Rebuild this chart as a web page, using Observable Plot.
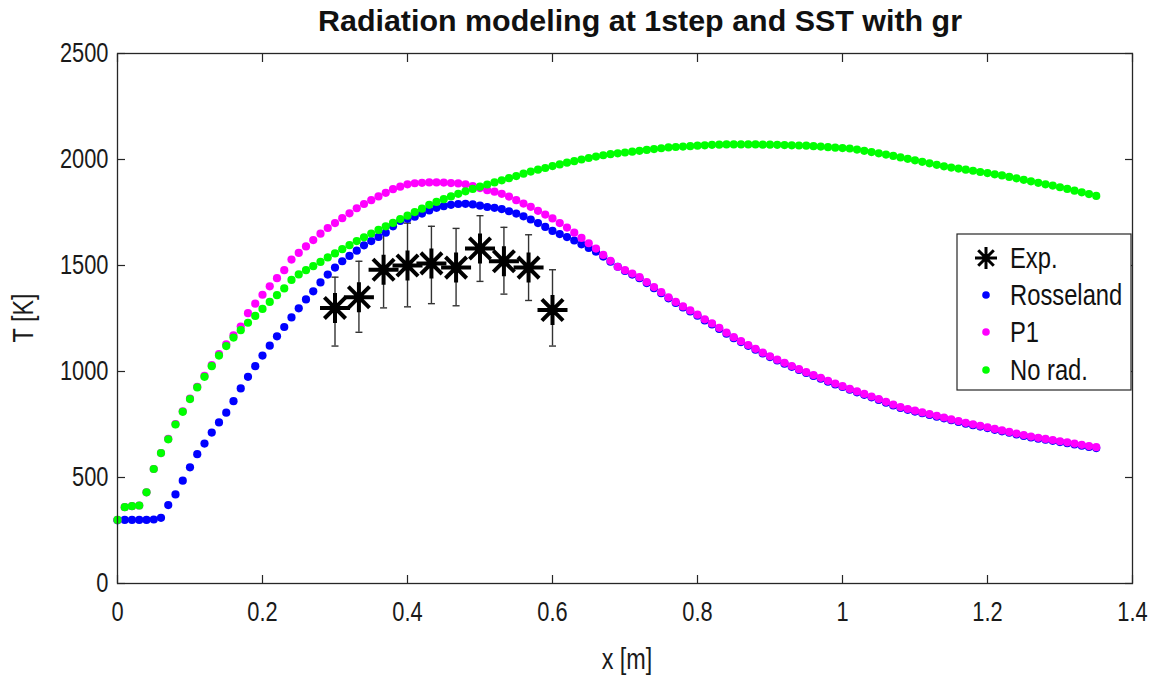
<!DOCTYPE html>
<html><head><meta charset="utf-8">
<script src="https://cdn.jsdelivr.net/npm/d3@7"></script>
<script src="https://cdn.jsdelivr.net/npm/@observablehq/plot@0.6"></script>
<style>
html,body{margin:0;padding:0;background:#fff;}
#chart{position:relative;width:1158px;height:676px;}
</style></head><body><div id="chart"></div>
<script>
// ---------- data ----------
const titleText = "Radiation modeling at 1step and SST with gr";
const xLabel = "x [m]";
const yLabel = "T [K]";
const legendLabels = ["Exp.", "Rosseland", "P1", "No rad."];

const xTicks = [0, 0.2, 0.4, 0.6, 0.8, 1.0, 1.2, 1.4];
const xTickLabels = ["0", "0.2", "0.4", "0.6", "0.8", "1", "1.2", "1.4"];
const yTicks = [0, 500, 1000, 1500, 2000, 2500];
const yTickLabels = ["0", "500", "1000", "1500", "2000", "2500"];

const xs = [0.00,0.01,0.02,0.03,0.04,0.05,0.06,0.07,0.08,0.09,
0.10,0.11,0.12,0.13,0.14,0.15,0.16,0.17,0.18,0.19,
0.20,0.21,0.22,0.23,0.24,0.25,0.26,0.27,0.28,0.29,
0.30,0.31,0.32,0.33,0.34,0.35,0.36,0.37,0.38,0.39,
0.40,0.41,0.42,0.43,0.44,0.45,0.46,0.47,0.48,0.49,
0.50,0.51,0.52,0.53,0.54,0.55,0.56,0.57,0.58,0.59,
0.60,0.61,0.62,0.63,0.64,0.65,0.66,0.67,0.68,0.69,
0.70,0.71,0.72,0.73,0.74,0.75,0.76,0.77,0.78,0.79,
0.80,0.81,0.82,0.83,0.84,0.85,0.86,0.87,0.88,0.89,
0.90,0.91,0.92,0.93,0.94,0.95,0.96,0.97,0.98,0.99,
1.00,1.01,1.02,1.03,1.04,1.05,1.06,1.07,1.08,1.09,
1.10,1.11,1.12,1.13,1.14,1.15,1.16,1.17,1.18,1.19,
1.20,1.21,1.22,1.23,1.24,1.25,1.26,1.27,1.28,1.29,
1.30,1.31,1.32,1.33,1.34,1.35];

const rosseland = [298,300,300,300,300,302,310,370,420,485,
548,610,660,712,760,806,860,920,975,1025,
1075,1122,1166,1210,1255,1298,1340,1378,1420,1457,
1490,1520,1545,1570,1595,1615,1635,1655,1685,1710,
1720,1730,1745,1760,1772,1780,1786,1790,1791,1788,
1782,1776,1772,1766,1756,1745,1732,1717,1700,1682,
1663,1648,1634,1618,1600,1583,1565,1542,1518,1494,
1474,1457,1440,1417,1393,1369,1345,1323,1302,1283,
1263,1241,1222,1201,1178,1157,1139,1121,1103,1085,
1068,1052,1037,1022,1007,993,979,966,952,939,
927,914,902,890,878,866,853,840,828,819,
811,803,795,787,779,770,762,754,747,740,
733,725,718,711,703,696,689,683,678,673,
667,662,656,650,644,639];

const p1 = [300,360,365,368,430,540,615,682,752,812,
872,928,979,1030,1082,1128,1170,1212,1275,1320,
1362,1402,1440,1478,1528,1560,1590,1620,1650,1677,
1700,1723,1746,1770,1790,1808,1826,1843,1860,1872,
1883,1888,1890,1892,1892,1891,1889,1887,1883,1875,
1865,1855,1848,1838,1825,1808,1792,1777,1758,1740,
1722,1700,1679,1655,1630,1605,1580,1550,1522,1494,
1478,1462,1445,1422,1398,1374,1350,1328,1307,1288,
1268,1246,1227,1206,1183,1162,1143,1125,1107,1089,
1072,1056,1041,1026,1011,997,983,970,956,943,
931,918,906,894,882,870,857,844,832,823,
815,807,799,791,783,774,766,758,751,744,
737,729,722,715,707,700,693,687,682,677,
671,666,660,654,648,643];

const noRad = [300,360,365,368,430,540,615,680,750,810,
870,925,975,1025,1075,1120,1160,1195,1230,1262,
1295,1328,1360,1392,1432,1458,1478,1497,1517,1538,
1557,1577,1596,1615,1633,1651,1668,1685,1701,1719,
1735,1752,1768,1786,1800,1813,1826,1838,1850,1861,
1872,1882,1892,1902,1912,1922,1933,1943,1952,1960,
1969,1977,1985,1992,2000,2007,2014,2020,2025,2029,
2033,2037,2041,2045,2049,2053,2057,2059,2061,2063,
2065,2067,2069,2070,2071,2071,2071,2071,2071,2070,
2070,2069,2068,2067,2066,2065,2063,2061,2058,2056,
2054,2052,2047,2041,2035,2029,2023,2017,2010,2003,
1996,1989,1982,1975,1968,1962,1957,1952,1947,1941,
1936,1930,1925,1918,1911,1904,1897,1890,1883,1877,
1869,1861,1853,1845,1837,1828];

const expX  = [0.30, 0.333, 0.367, 0.40, 0.433, 0.467, 0.50, 0.533, 0.567, 0.60];
const expT  = [1300, 1350, 1480, 1500, 1510, 1490, 1580, 1520, 1490, 1290];
const expHi = [1445, 1520, 1655, 1700, 1685, 1675, 1735, 1680, 1645, 1480];
const expLo = [1120, 1185, 1300, 1305, 1320, 1310, 1425, 1365, 1335, 1120];

// ---------- styling ----------
const FONT = '"Liberation Sans",Arial,Helvetica,sans-serif';
const INK = "#262626";
const SX = 0.78; // horizontal condensing of all text, as in the reference
const colors = {rosseland: "#0000ff", p1: "#ff00ff", noRad: "#00ff00", exp: "#000000"};
const W = 1158, H = 676, mL = 117, mR = 26, mT = 53, mB = 93;

const star8 = {draw(ctx, size) {
  const r = Math.sqrt(size / Math.PI), d = r * Math.SQRT1_2;
  ctx.moveTo(0, -r); ctx.lineTo(0, r);
  ctx.moveTo(-r, 0); ctx.lineTo(r, 0);
  ctx.moveTo(-d, -d); ctx.lineTo(d, d);
  ctx.moveTo(-d, d); ctx.lineTo(d, -d);
}};
const cap = {draw(ctx, size) {
  const r = Math.sqrt(size / Math.PI);
  ctx.moveTo(-r, 0); ctx.lineTo(r, 0);
}};

const rows = ys => xs.map((x, i) => ({x, T: ys[i]}));
const exp = expX.map((x, i) => ({x, T: expT[i], lo: expLo[i], hi: expHi[i]}));
const fx = d => xTickLabels[xTicks.indexOf(d)];
const fy = d => yTickLabels[yTicks.indexOf(d)];

const svg = Plot.plot({
  width: W, height: H,
  marginLeft: mL, marginRight: mR, marginTop: mT, marginBottom: mB,
  style: {fontFamily: FONT, fontSize: "28px", color: INK, background: "#fff", overflow: "visible"},
  x: {domain: [0, 1.4]},
  y: {domain: [0, 2500]},
  marks: [
    Plot.axisX({anchor: "bottom", ticks: xTicks, tickFormat: fx, tickSize: -8, tickPadding: 26, label: null, stroke: INK, strokeWidth: 1.2, fill: "#1a1a1a"}),
    Plot.axisX({anchor: "top", ticks: xTicks, tickFormat: () => "", tickSize: -8, label: null, stroke: INK, strokeWidth: 1.2}),
    Plot.axisY({anchor: "left", ticks: yTicks, tickFormat: fy, tickSize: -8, tickPadding: 17, label: null, stroke: INK, strokeWidth: 1.2, fill: "#1a1a1a"}),
    Plot.axisY({anchor: "right", ticks: yTicks, tickFormat: () => "", tickSize: -8, label: null, stroke: INK, strokeWidth: 1.2}),
    Plot.ruleX(exp, {x: "x", y1: "lo", y2: "hi", stroke: "#333", strokeWidth: 1.4}),
    Plot.dot(exp, {x: "x", y: "lo", symbol: cap, r: 3.5, stroke: "#333", strokeWidth: 1.4}),
    Plot.dot(exp, {x: "x", y: "hi", symbol: cap, r: 3.5, stroke: "#333", strokeWidth: 1.4}),
    Plot.dot(exp, {x: "x", y: "T", symbol: star8, r: 15, stroke: colors.exp, strokeWidth: 4, fill: "none"}),
    Plot.dot(rows(rosseland), {x: "x", y: "T", r: 4.1, fill: colors.rosseland, stroke: null}),
    Plot.dot(rows(p1), {x: "x", y: "T", r: 4.1, fill: colors.p1, stroke: null}),
    Plot.dot(rows(noRad), {x: "x", y: "T", r: 4.1, fill: colors.noRad, stroke: null}),
    Plot.frame({stroke: INK, strokeWidth: 1.3})
  ]
});

const s = d3.select(svg);
// condense tick labels horizontally around their anchor
s.selectAll('g[aria-label$="tick label"] text').each(function() {
  const t = d3.select(this);
  t.attr("transform", (t.attr("transform") || "") + ` scale(${SX},1)`);
});
// title
s.append("text").attr("transform", `translate(640,31) scale(${SX},1)`).attr("text-anchor", "middle")
  .attr("font-family", FONT).attr("font-weight", "bold").attr("font-size", 29).attr("fill", "#111")
  .attr("textLength", 644 / SX).attr("lengthAdjust", "spacingAndGlyphs")
  .text(titleText);
// axis labels
s.append("text").attr("transform", `translate(627,669) scale(${SX},1)`).attr("text-anchor", "middle")
  .attr("font-family", FONT).attr("font-size", 30).attr("fill", "#1a1a1a").text(xLabel);
s.append("text").attr("transform", `translate(33,318) rotate(-90) scale(${SX},1)`).attr("text-anchor", "middle")
  .attr("font-family", FONT).attr("font-size", 30).attr("fill", "#1a1a1a").text(yLabel);

// legend
const lg = s.append("g").attr("transform", "translate(957,234)");
lg.append("rect").attr("width", 174).attr("height", 156).attr("fill", "#fff").attr("stroke", INK).attr("stroke-width", 1.2);
const legendColors = [colors.exp, colors.rosseland, colors.p1, colors.noRad];
const rowY = [24, 61, 98, 136];
legendLabels.forEach((name, i) => {
  const g = lg.append("g").attr("transform", `translate(0,${rowY[i]})`);
  if (i === 0) {
    const r = 11, d = r * Math.SQRT1_2;
    g.append("path").attr("d", `M29,${-r}V${r}M${29 - r},0H${29 + r}M${29 - d},${-d}L${29 + d},${d}M${29 - d},${d}L${29 + d},${-d}`)
      .attr("stroke", "#000").attr("stroke-width", 3).attr("fill", "none");
  } else {
    g.append("circle").attr("cx", 29).attr("cy", 0).attr("r", 3.8).attr("fill", legendColors[i]);
  }
  g.append("text").attr("transform", `translate(53,0) scale(0.82,1)`).attr("dy", "0.36em")
    .attr("text-anchor", "start")
    .attr("font-family", FONT).attr("font-size", 29).attr("fill", "#111").text(name);
});

document.getElementById("chart").appendChild(svg);
</script>
</body></html>
